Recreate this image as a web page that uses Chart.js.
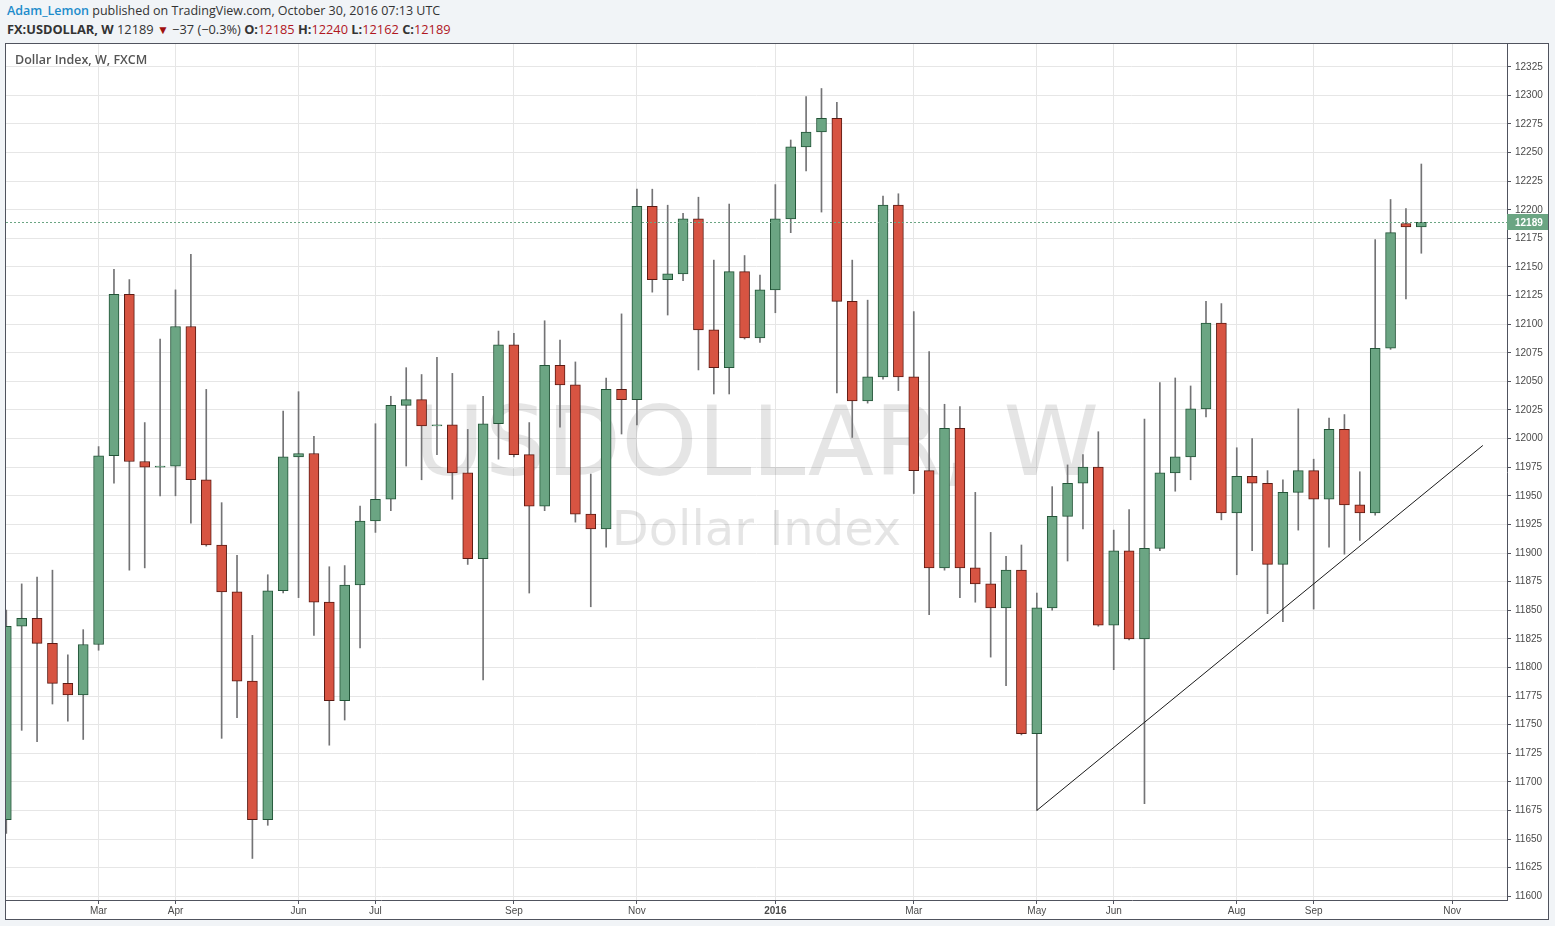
<!DOCTYPE html>
<html>
<head>
<meta charset="utf-8">
<title>USDOLLAR, W</title>
<script src="https://cdn.jsdelivr.net/npm/chart.js@4.4.0/dist/chart.umd.min.js"></script>
<style>
    html, body { margin: 0; padding: 0; width: 1555px; height: 926px; overflow: hidden; background: #f1f4f7; font-family: "Open Sans", sans-serif; }
    .hdr { position: absolute; left: 7px; font-size: 12.5px; line-height: 16px; color: #333; white-space: nowrap; }
    #legend { font-size: 12.8px; }
    .author { color: #1d8ccb; font-weight: 600; }
    .dn { color: #a00f0f; font-size: 12px; }
    .v { color: #b0171f; }
    #panel { position: absolute; left: 5px; top: 43px; width: 1542px; height: 875px; border: 1px solid #50535e; background: #fff; }
    #title { position: absolute; left: 15px; top: 52px; font-size: 12.5px; line-height: 16px; font-weight: 600; color: #555; }
</style>
</head>
<body>
<div class="hdr" style="top:3px"><span class="author">Adam_Lemon</span> published on TradingView.com, October 30, 2016 07:13 UTC</div>
<div class="hdr" style="top:21px" id="legend"></div>
<div id="panel"><canvas id="chart" width="1542" height="875"></canvas></div>
<div id="title">Dollar Index, W, FXCM</div>

<script>
// weekly bars, Monday of each week
const weeks = [
    '2015-01-19','2015-01-26','2015-02-02','2015-02-09','2015-02-16','2015-02-23','2015-03-02','2015-03-09','2015-03-16','2015-03-23',
    '2015-03-30','2015-04-06','2015-04-13','2015-04-20','2015-04-27','2015-05-04','2015-05-11','2015-05-18','2015-05-25','2015-06-01',
    '2015-06-08','2015-06-15','2015-06-22','2015-06-29','2015-07-06','2015-07-13','2015-07-20','2015-07-27','2015-08-03','2015-08-10',
    '2015-08-17','2015-08-24','2015-08-31','2015-09-07','2015-09-14','2015-09-21','2015-09-28','2015-10-05','2015-10-12','2015-10-19',
    '2015-10-26','2015-11-02','2015-11-09','2015-11-16','2015-11-23','2015-11-30','2015-12-07','2015-12-14','2015-12-21','2015-12-28',
    '2016-01-04','2016-01-11','2016-01-18','2016-01-25','2016-02-01','2016-02-08','2016-02-15','2016-02-22','2016-02-29','2016-03-07',
    '2016-03-14','2016-03-21','2016-03-28','2016-04-04','2016-04-11','2016-04-18','2016-04-25','2016-05-02','2016-05-09','2016-05-16',
    '2016-05-23','2016-05-30','2016-06-06','2016-06-13','2016-06-20','2016-06-27','2016-07-04','2016-07-11','2016-07-18','2016-07-25',
    '2016-08-01','2016-08-08','2016-08-15','2016-08-22','2016-08-29','2016-09-05','2016-09-12','2016-09-19','2016-09-26','2016-10-03',
    '2016-10-10','2016-10-17','2016-10-24'
];
const openP = [
    11667,11836,11843,11821,11786,11776,11820,11985,12126,11980,
    11975,11976,12098,11964,11907,11866,11788,11667,11867,11984,
    11987,11857,11771,11872,11928,11947,12029,12034,12011,12012,
    11970,11895,12013,12082,11986,11941,12064,12047,11934,11921,
    12043,12034,12203,12139,12144,12192,12095,12062,12146,12088,
    12130,12192,12255,12268,12280,12120,12033,12054,12204,12054,
    11972,11887,12009,11887,11873,11852,11885,11742,11852,11932,
    11961,11975,11837,11902,11825,11904,11970,11984,12026,12101,
    11935,11967,11961,11890,11953,11972,11947,12008,11942,11935,
    12079,12188,12185
];
const highP = [
    11850,11873,11879,11885,11811,11833,11993,12148,12139,12014,
    12087,12130,12161,12043,11944,11898,11828,11881,12024,12041,
    12002,11888,11889,11941,12013,12037,12062,12056,12071,12057,
    12008,12037,12094,12092,12014,12103,12086,12067,11969,12053,
    12109,12218,12218,12204,12197,12211,12156,12205,12160,12143,
    12222,12261,12299,12306,12294,12156,12121,12212,12214,12111,
    12076,12030,12028,11953,11918,11897,11907,11865,11958,11977,
    11986,12006,11920,11938,12017,12049,12053,12046,12120,12118,
    11992,12000,11972,11964,12026,11982,12018,12021,11971,12174,
    12209,12201,12240
];
const lowP = [
    11655,11745,11735,11768,11753,11737,11815,11961,11885,11887,
    11950,11950,11926,11906,11738,11756,11633,11662,11865,11861,
    11828,11732,11754,11817,11918,11937,11976,11964,11986,11947,
    11890,11789,11982,11984,11865,11937,12010,11927,11853,11905,
    12004,12012,12128,12108,12138,12060,12039,12039,12087,12084,
    12110,12180,12234,12198,12040,12001,12031,12052,12042,11952,
    11846,11885,11861,11857,11809,11784,11741,11675,11850,11893,
    11921,11836,11798,11824,11681,11902,11954,11964,12019,11929,
    11881,11902,11847,11840,11920,11851,11905,11899,11911,11933,
    12078,12122,12162
];
const closeP = [
    11836,11843,11821,11786,11776,11820,11985,12126,11980,11975,
    11976,12098,11964,11907,11866,11788,11667,11867,11984,11987,
    11857,11771,11872,11928,11947,12029,12034,12011,12012,11970,
    11895,12013,12082,11986,11941,12064,12047,11934,11921,12043,
    12034,12203,12139,12144,12192,12095,12062,12146,12088,12130,
    12192,12255,12268,12280,12120,12033,12054,12204,12054,11972,
    11887,12009,11887,11873,11852,11885,11742,11852,11932,11961,
    11975,11837,11902,11825,11904,11970,11984,12026,12101,11935,
    11967,11961,11890,11953,11972,11947,12008,11942,11935,12079,
    12180,12185,12189
];

// time axis labels (first bar of the labelled months)
const tickDates  = ['2015-03-02','2015-04-06','2015-06-01','2015-07-06','2015-09-07','2015-11-02','2016-01-04','2016-03-07','2016-05-02','2016-06-06','2016-08-01','2016-09-05','2016-11-07'];
const tickLabels = ['Mar','Apr','Jun','Jul','Sep','Nov','2016','Mar','May','Jun','Aug','Sep','Nov'];

// hand drawn trend line
const trendDates  = ['2016-05-02', '2016-11-21'];
const trendValues = [11675, 11994];

const lastChange = '\u221237 (\u22120.3%)';

const UP = '#6ba583', DOWN = '#d75442', UP_BORDER = '#225437', DOWN_BORDER = '#5b1a13', WICK = '#737375';
const AXIS = '#50535e', GRID = '#e6e6e6', TEXT = '#4a4a4a';

const WEEK_MS = 7 * 86400000;
const weekIndex = d => Math.round((Date.parse(d) - Date.parse(weeks[0])) / WEEK_MS);

const last = weeks.length - 1;
const lastPrice = closeP[last];
document.getElementById('legend').innerHTML =
    `<b>FX:USDOLLAR, W</b> ${lastPrice} <span class="dn">&#9660;</span> ${lastChange} ` +
    `<b>O:</b><span class="v">${openP[last]}</span> <b>H:</b><span class="v">${highP[last]}</span> ` +
    `<b>L:</b><span class="v">${lowP[last]}</span> <b>C:</b><span class="v">${closeP[last]}</span>`;

const isUp = closeP.map((c, i) => c >= openP[i]);
const tickIdx = tickDates.map(weekIndex);

const watermark = {
    id: 'watermark',
    beforeDatasetsDraw(chart) {
        const { ctx, chartArea: a } = chart;
        const cx = (a.left + a.right) / 2;
        ctx.save();
        ctx.fillStyle = 'rgba(0,0,0,0.1)';
        ctx.textAlign = 'center';
        ctx.textBaseline = 'alphabetic';
        ctx.font = '97px "DejaVu Sans"';
        ctx.fillText('USDOLLAR, W', cx, 431);
        ctx.font = '48px "DejaVu Sans"';
        ctx.fillText('Dollar Index', cx, 501);
        ctx.restore();
    }
};

const lastPriceLine = {
    id: 'lastPriceLine',
    afterDatasetsDraw(chart) {
        const { ctx, chartArea: a, scales } = chart;
        const y = Math.round(scales.y.getPixelForValue(lastPrice)) + 0.5;
        ctx.save();
        ctx.strokeStyle = UP;
        ctx.lineWidth = 1;
        ctx.setLineDash([2, 2]);
        ctx.beginPath();
        ctx.moveTo(a.left, y);
        ctx.lineTo(a.right, y);
        ctx.stroke();
        ctx.restore();
    },
    afterDraw(chart) {
        const { ctx, chartArea: a, scales } = chart;
        const y = Math.round(scales.y.getPixelForValue(lastPrice));
        ctx.save();
        ctx.fillStyle = UP;
        ctx.fillRect(a.right, y - 8, chart.width - a.right, 16);
        ctx.fillStyle = '#fff';
        ctx.font = 'bold 10px "Liberation Sans"';
        ctx.textBaseline = 'middle';
        ctx.fillText(String(lastPrice), a.right + 8, y + 1);
        ctx.restore();
    }
};

new Chart(document.getElementById('chart'), {
    type: 'bar',
    data: {
        datasets: [
            {
                label: 'wick',
                data: weeks.map((w, i) => ({ x: i, y: [lowP[i], highP[i]] })),
                backgroundColor: WICK,
                borderWidth: 0,
                barThickness: 1,
                grouped: false,
                order: 3,
            },
            {
                label: 'body',
                data: weeks.map((w, i) => ({ x: i, y: [openP[i], closeP[i]] })),
                backgroundColor: isUp.map(u => u ? UP : DOWN),
                borderColor: isUp.map(u => u ? UP_BORDER : DOWN_BORDER),
                borderWidth: 1,
                borderSkipped: false,
                barThickness: 10,
                grouped: false,
                order: 2,
            },
            {
                type: 'line',
                label: 'trend',
                data: trendDates.map((d, k) => ({ x: weekIndex(d), y: trendValues[k] })),
                borderColor: '#1a1a1a',
                borderWidth: 1,
                pointRadius: 0,
                fill: false,
                order: 1,
            }
        ]
    },
    options: {
        responsive: false,
        animation: false,
        devicePixelRatio: 1,
        layout: { padding: 0 },
        plugins: { legend: { display: false }, tooltip: { enabled: false } },
        scales: {
            x: {
                type: 'linear',
                min: -0.02,
                max: 97.57,
                offset: false,
                afterBuildTicks: s => { s.ticks = tickIdx.map(v => ({ value: v })); },
                afterFit: s => { s.height = 19; s.paddingLeft = 0; s.paddingRight = 0; },
                ticks: {
                    autoSkip: false,
                    maxRotation: 0,
                    padding: 1,
                    color: TEXT,
                    font: ctx => ({ family: '"Liberation Sans"', size: 10, weight: tickLabels[ctx.index] === '2016' ? 'bold' : 'normal' }),
                    callback: (v, i) => tickLabels[i],
                },
                grid: { color: GRID, tickColor: AXIS, tickLength: 4, offset: false },
                border: { display: true, color: AXIS },
            },
            y: {
                type: 'linear',
                position: 'right',
                min: 11596.7,
                max: 12344.9,
                afterBuildTicks: s => {
                    const t = [];
                    for (let v = 11600; v <= 12325; v += 25) t.push({ value: v });
                    s.ticks = t;
                },
                afterFit: s => { s.width = 41; s.paddingTop = 0; s.paddingBottom = 0; },
                ticks: {
                    padding: 4,
                    color: TEXT,
                    font: { family: '"Liberation Sans"', size: 10 },
                    callback: v => String(v),
                },
                grid: { color: GRID, tickColor: AXIS, tickLength: 4 },
                border: { display: true, color: AXIS },
            }
        }
    },
    plugins: [watermark, lastPriceLine]
});
</script>
</body>
</html>
